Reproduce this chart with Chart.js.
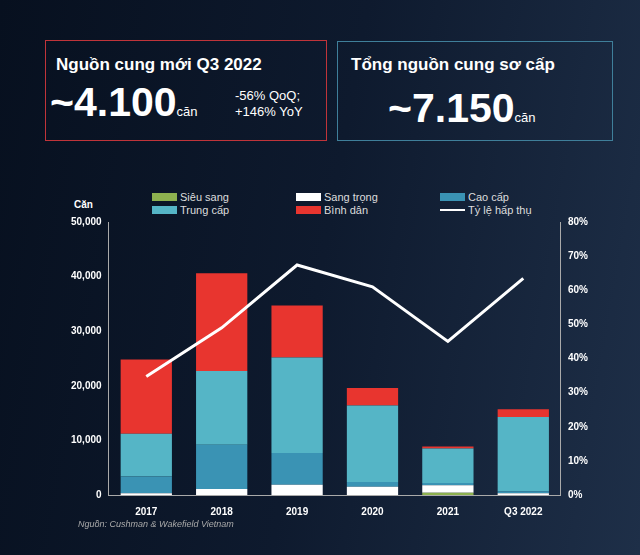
<!DOCTYPE html>
<html>
<head>
<meta charset="utf-8">
<script src="https://cdn.jsdelivr.net/npm/chart.js@4"></script>
<style>
  body { margin:0; width:640px; height:555px; overflow:hidden; font-family:"Liberation Sans", Arial, sans-serif;
    background: linear-gradient(100deg, #07101f 0%, #0e1a2e 50%, #1e2f48 100%); color:#fff; position:relative; }
  .box { position:absolute; box-sizing:border-box; }
  #box1 { left:45px; top:40px; width:282px; height:101px; border:1.5px solid #c0343a; }
  #box2 { left:337px; top:41px; width:276px; height:100px; border:1.5px solid #3f7f9a; }
  .title { position:absolute; font-size:17px; font-weight:bold; }
  .big { position:absolute; font-size:41px; font-weight:bold; }
  .unit { font-size:13px; font-weight:normal; }
  .legend { position:absolute; font-size:11px; color:#ddd; display:flex; align-items:center; }
  .sw { display:inline-block; width:25px; height:8px; margin-right:3px; }
  #wrap { position:absolute; left:68px; top:208px; width:523px; height:313px; }
  #src { position:absolute; left:78px; top:519px; font-size:9px; font-style:italic; color:#aaa; }
  #unitLbl { position:absolute; left:74px; top:199px; font-size:10px; font-weight:bold; }
</style>
</head>
<body>
<div class="box" id="box1">
  <div class="title" style="left:10px;top:14px">Nguồn cung mới Q3 2022</div>
  <div class="big" style="left:4px;top:38px">~4.100<span class="unit">căn</span></div>
  <div style="position:absolute;left:189px;top:47px;font-size:13px;line-height:16px">-56% QoQ;<br>+146% YoY</div>
</div>
<div class="box" id="box2">
  <div class="title" style="left:13px;top:13px">Tổng nguồn cung sơ cấp</div>
  <div class="big" style="left:50px;top:43px">~7.150<span class="unit">căn</span></div>
</div>
<div id="unitLbl">Căn</div>
<div class="legend" style="left:152px;top:191px"><span class="sw" style="background:#8db14f"></span>Siêu sang</div>
<div class="legend" style="left:152px;top:204px"><span class="sw" style="background:#55b5c6"></span>Trung cấp</div>
<div class="legend" style="left:296px;top:191px"><span class="sw" style="background:#fff"></span>Sang trọng</div>
<div class="legend" style="left:296px;top:204px"><span class="sw" style="background:#e8352f"></span>Bình dân</div>
<div class="legend" style="left:440px;top:191px"><span class="sw" style="background:#3a93b4"></span>Cao cấp</div>
<div class="legend" style="left:440px;top:204px"><span class="sw" style="background:#fff;height:2px"></span>Tỷ lệ hấp thụ</div>
<div id="wrap"><canvas id="chart"></canvas></div>
<div id="src">Nguồn: Cushman &amp; Wakefield Vietnam</div>
<script>
const categories = ["2017", "2018", "2019", "2020", "2021", "Q3 2022"];
const sieuSang = [0, 0, 0, 0, 400, 0];
const sangTrong = [300, 1100, 1900, 1500, 1400, 300];
const caoCap = [3100, 8100, 5800, 900, 400, 400];
const trungCap = [7800, 13500, 17500, 14000, 6300, 13600];
const binhDan = [13600, 17900, 9500, 3200, 400, 1400];
const tyLeHapThu = [34.7, 49, 67.4, 61, 45, 63.5];

const bar = (label, data, color) => ({ type: "bar", label, data, backgroundColor: color, yAxisID: "y",
  categoryPercentage: 0.85, barPercentage: 0.8, order: 2 });

new Chart(document.getElementById("chart"), {
  data: {
    labels: categories,
    datasets: [
      { type: "line", label: "Tỷ lệ hấp thụ", data: tyLeHapThu, borderColor: "#fff", borderWidth: 3,
        pointRadius: 0, yAxisID: "y1", tension: 0, order: 1 },
      bar("Siêu sang", sieuSang, "#8db14f"),
      bar("Sang trọng", sangTrong, "#ffffff"),
      bar("Cao cấp", caoCap, "#3a93b4"),
      bar("Trung cấp", trungCap, "#55b5c6"),
      bar("Bình dân", binhDan, "#e8352f"),
    ],
  },
  options: {
    responsive: true, maintainAspectRatio: false, animation: false,
    layout: { padding: { top: 14, left: 0, right: 0, bottom: 0 } },
    plugins: { legend: { display: false }, tooltip: { enabled: false } },
    scales: {
      x: { stacked: true, grid: { display: false, drawTicks: true }, border: { color: "#aaa" },
        ticks: { color: "#fff", font: { size: 10, weight: "bold" } } },
      y: { stacked: true, min: 0, max: 50000, grid: { display: false, drawTicks: true, tickColor: "#aaa", tickLength: 4 },
        border: { color: "#aaa" },
        ticks: { stepSize: 10000, color: "#fff", font: { size: 10, weight: "bold" },
          callback: (v) => v.toLocaleString("en-US") } },
      y1: { position: "right", min: 0, max: 80, grid: { display: false, tickLength: 4, tickColor: "#aaa" },
        border: { color: "#aaa" },
        ticks: { stepSize: 10, color: "#fff", font: { size: 10, weight: "bold" }, callback: (v) => v + "%" } },
    },
  },
});
</script>
</body>
</html>
